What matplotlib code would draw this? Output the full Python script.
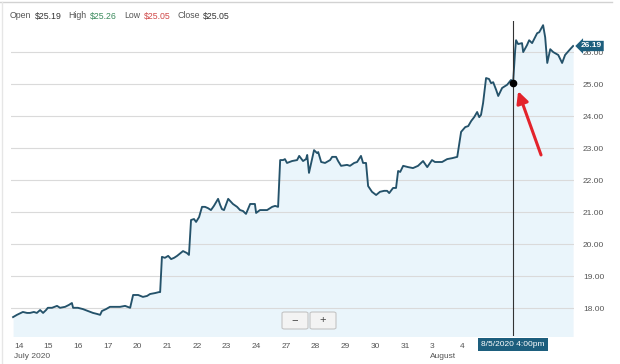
import matplotlib
matplotlib.use('Agg')
import matplotlib.pyplot as plt
from matplotlib.patches import FancyBboxPatch
from matplotlib.lines import Line2D
import matplotlib.transforms as mtransforms

plt.rcParams['font.family'] = ['Liberation Sans', 'DejaVu Sans']

# position in trading days (0 = open of Jul 14) and share price
dayPos = [-0.03, 0.10, 0.30, 0.44, 0.54, 0.67, 0.77, 0.88, 0.98, 1.08, 1.14, 1.28, 1.45, 1.55,
          1.72, 1.85, 1.95, 1.99, 2.15, 2.32, 2.49, 2.66, 2.79, 2.90, 2.96, 3.10, 3.23, 3.40,
          3.57, 3.74, 3.91, 4.01, 4.18, 4.34, 4.48, 4.58, 4.75, 4.88, 4.92, 4.98, 5.08, 5.19,
          5.29, 5.39, 5.49, 5.69, 5.82, 5.89, 5.96, 6.06, 6.13, 6.23, 6.33, 6.43, 6.53, 6.63,
          6.73, 6.87, 6.94, 7.00, 7.07, 7.21, 7.37, 7.51, 7.61, 7.71, 7.81, 7.95, 8.11, 8.15,
          8.28, 8.52, 8.69, 8.79, 8.89, 8.96, 9.06, 9.12, 9.19, 9.36, 9.53, 9.60, 9.73, 9.83,
          9.87, 9.93, 10.10, 10.20, 10.24, 10.34, 10.47, 10.64, 10.71, 10.84, 10.91, 11.01,
          11.21, 11.31, 11.45, 11.55, 11.68, 11.75, 11.85, 11.92, 12.05, 12.19, 12.32, 12.46,
          12.56, 12.63, 12.76, 12.86, 12.93, 13.00, 13.10, 13.27, 13.43, 13.60, 13.77, 13.91,
          14.07, 14.17, 14.41, 14.58, 14.75, 14.92, 15.05, 15.19, 15.29, 15.39, 15.49, 15.59,
          15.66, 15.72, 15.79, 15.89, 15.99, 16.06, 16.13, 16.23, 16.30, 16.43, 16.60, 16.73,
          16.80, 16.87, 16.90, 16.97, 17.10, 17.14, 17.27, 17.34, 17.44, 17.61, 17.68, 17.81,
          17.88, 17.95, 18.05, 18.15, 18.32, 18.45, 18.55, 18.72, 18.82]
priceList = [17.73, 17.80, 17.89, 17.86, 17.86, 17.89, 17.86, 17.95, 17.86, 17.95, 18.02, 18.02,
             18.08, 18.02, 18.05, 18.11, 18.17, 18.02, 18.02, 17.98, 17.92, 17.86, 17.83, 17.80,
             17.92, 17.98, 18.05, 18.05, 18.05, 18.08, 18.02, 18.42, 18.42, 18.36, 18.39, 18.45,
             18.48, 18.51, 18.51, 19.61, 19.58, 19.64, 19.54, 19.58, 19.64, 19.79, 19.73, 19.67,
             20.76, 20.79, 20.70, 20.85, 21.17, 21.17, 21.13, 21.07, 21.20, 21.42, 21.23, 21.10,
             21.07, 21.42, 21.26, 21.17, 21.07, 21.04, 20.95, 21.26, 21.26, 20.98, 21.07, 21.07,
             21.17, 21.20, 21.17, 22.63, 22.63, 22.66, 22.54, 22.60, 22.63, 22.76, 22.60, 22.66,
             22.79, 22.23, 22.94, 22.85, 22.88, 22.57, 22.54, 22.63, 22.73, 22.73, 22.60, 22.45,
             22.48, 22.45, 22.54, 22.57, 22.76, 22.54, 22.54, 21.82, 21.64, 21.54, 21.64, 21.67,
             21.67, 21.60, 21.76, 21.76, 22.29, 22.26, 22.45, 22.41, 22.38, 22.45, 22.60, 22.41,
             22.63, 22.57, 22.57, 22.66, 22.69, 22.73, 23.51, 23.66, 23.69, 23.85, 23.97, 24.13,
             23.97, 24.04, 24.41, 25.19, 25.16, 25.03, 25.06, 24.82, 24.63, 24.88, 24.98, 25.13,
             25.05, 26.06, 26.37, 26.25, 26.28, 26.00, 26.22, 26.37, 26.28, 26.59, 26.62, 26.84,
             26.46, 25.66, 26.09, 26.00, 25.91, 25.66, 25.91, 26.09, 26.19]

dayLabels = ['14', '15', '16', '17', '20', '21', '22', '23', '24', '27', '28', '29', '30', '31', '3', '4']
monthLabels = {0: 'July 2020', 14: 'August'}
priceTicks = [18, 19, 20, 21, 22, 23, 24, 25, 26]

# header values
headerParts = [('Open', '#555555'), ('$25.19', '#333333'),
               ('High', '#555555'), ('$25.26', '#3a8a5c'),
               ('Low', '#555555'), ('$25.05', '#d04848'),
               ('Close', '#555555'), ('$25.05', '#333333')]

cursorPos = 16.80
cursorPrice = 25.05
cursorLabel = '8/5/2020 4:00pm'
lastPrice = 26.19

lineColor = '#24526a'
fillColor = '#eaf5fb'
boxColor = '#1d5e7d'
W, H = 620, 364

fig = plt.figure(figsize=(W / 100, H / 100), dpi=100)
ax = fig.add_axes([11 / W, 1 - 336 / H, 563 / W, 315 / H])
ax.set_xlim(-0.10, 18.85)
ax.set_ylim(17.14, 26.97)
for s in ax.spines.values():
    s.set_visible(False)

# grid lines
for p in priceTicks:
    ax.axhline(p, color='#dadada', lw=0.8, zorder=1.5)

ax.fill_between(dayPos, priceList, 16.0, color=fillColor, lw=0, zorder=1)
ax.plot(dayPos, priceList, color=lineColor, lw=1.35, zorder=3, solid_joinstyle='round')

# price axis on the right
ax.yaxis.tick_right()
ax.set_yticks(priceTicks)
ax.set_yticklabels(['%.2f' % p for p in priceTicks])
ax.tick_params(axis='y', length=0, pad=6.5, labelsize=6, labelcolor='#555555')

# day axis, labels left aligned at the start of each day
ax.set_xticks(range(len(dayLabels)))
tickTexts = ax.set_xticklabels(dayLabels)
ax.tick_params(axis='x', length=0, pad=5, labelsize=6, labelcolor='#555555')
for t in tickTexts:
    t.set_horizontalalignment('left')

# month names under the first day of each month
trans = mtransforms.blended_transform_factory(ax.transData, ax.transAxes)
for i, m in monthLabels.items():
    ax.annotate(m, xy=(i, 0), xycoords=trans, xytext=(0, -12.5), textcoords='offset points',
                ha='left', va='top', fontsize=6, color='#555555', annotation_clip=False)

# crosshair and hovered point
ax.axvline(cursorPos, color='#333333', lw=0.8, zorder=4)
ax.plot(cursorPos, cursorPrice, 'o', color='black', ms=4.5, zorder=5)

ax.annotate(cursorLabel, xy=(cursorPos, 0), xycoords=('data', 'axes fraction'),
            xytext=(0, -3.5), textcoords='offset points', ha='center', va='top',
            fontsize=6, color='white',
            bbox=dict(boxstyle='square,pad=0.35', fc=boxColor, ec='none'),
            annotation_clip=False, zorder=6)

# last price tag
ax.annotate('%.2f' % lastPrice, xy=(1, lastPrice), xycoords=('axes fraction', 'data'),
            xytext=(5, 0), textcoords='offset points', ha='left', va='center',
            fontsize=6, color='white', fontweight='bold',
            bbox=dict(boxstyle='larrow,pad=0.2', fc=boxColor, ec='none'),
            annotation_clip=False, zorder=6)

# red arrow pointing at the hovered point
ax.annotate('', xy=(16.97, 24.78), xytext=(17.74, 22.79),
            arrowprops=dict(arrowstyle='-|>,head_width=0.35,head_length=0.7',
                            color='#e3232b', lw=2.2, shrinkA=0, shrinkB=0),
            zorder=6)

# zoom buttons
for x0, sym in [(282, '\u2212'), (310, '+')]:
    btn = FancyBboxPatch((x0 / W, 1 - 329 / H), 26 / W, 17 / H,
                         boxstyle='round,pad=0,rounding_size=0.004',
                         transform=fig.transFigure, fc='#f3f3f3', ec='#c4c4c4', lw=0.8)
    fig.add_artist(btn)
    fig.text((x0 + 13) / W, 1 - 320.5 / H, sym, ha='center', va='center',
             fontsize=8, color='#444444')

# header line of open/high/low/close
prev = ax.annotate(headerParts[0][0], xy=(10, H - 16), xycoords='figure pixels',
                   ha='left', va='center', fontsize=6.3, color=headerParts[0][1],
                   annotation_clip=False)
for i, (txt, col) in enumerate(headerParts[1:]):
    gap = 2.5 if i % 2 == 0 else 5
    prev = ax.annotate(txt, xy=(1, 0.5), xycoords=prev, xytext=(gap, 0),
                       textcoords='offset points', ha='left', va='center',
                       fontsize=6.3, color=col, annotation_clip=False)

# frame lines of the widget
fig.add_artist(Line2D([0, 612 / W], [1 - 2 / H, 1 - 2 / H], color='#d2d2d2', lw=1))
fig.add_artist(Line2D([2 / W, 2 / W], [0, 1 - 2 / H], color='#e6e6e6', lw=1))

fig.savefig('out.png', dpi=100)
